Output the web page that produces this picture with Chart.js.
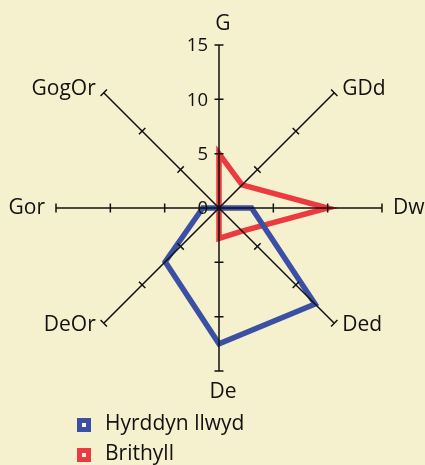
<!DOCTYPE html>
<html>
<head>
<meta charset="utf-8">
<script src="https://cdn.jsdelivr.net/npm/chart.js@4"></script>
<style>
html, body { margin: 0; padding: 0; background: #f5f0ce; }
#wrap { width: 425px; height: 465px; }
</style>
</head>
<body>
<div id="wrap"><canvas id="chart" width="425" height="465"></canvas></div>
<script>
const labels = ['G', 'GDd', 'Dw', 'Ded', 'De', 'DeOr', 'Gor', 'GogOr'];
const hyrddynLlwyd = [0, 0, 3, 12.5, 12.5, 7, 1.5, 0];
const brithyll = [5, 3, 10, 3, 2.8, 0, 0, 0];
const tickValues = [0, 5, 10, 15];

const BLUE = '#3b50a3';
const RED = '#ec3b40';
const INK = '#111';
const FONT = '"Open Sans", "DejaVu Sans", sans-serif';

// axes, tick marks and labels go on top of the lines, like the original
const crossAxes = {
    id: 'crossAxes',
    afterDatasetsDraw(chart) {
        const scale = chart.scales.r;
        const c = chart.ctx;
        const max = tickValues[tickValues.length - 1];
        c.save();
        c.strokeStyle = '#111';
        c.lineWidth = 1.5;
        c.beginPath();
        labels.forEach((lab, i) => {
            const end = scale.getPointPositionForValue(i, max);
            c.moveTo(scale.xCenter, scale.yCenter);
            c.lineTo(end.x, end.y);
            const nx = -Math.sin(end.angle), ny = Math.cos(end.angle);
            tickValues.slice(1).forEach(v => {
                const p = scale.getPointPositionForValue(i, v);
                c.moveTo(p.x + nx * 4.5, p.y + ny * 4.5);
                c.lineTo(p.x - nx * 4.5, p.y - ny * 4.5);
            });
        });
        c.stroke();

        // tick labels on the vertical axis
        c.fillStyle = INK;
        c.font = '18.5px ' + FONT;
        c.textAlign = 'right';
        c.textBaseline = 'middle';
        tickValues.forEach(v => {
            const p = scale.getPointPositionForValue(0, v);
            c.fillText(String(v), scale.xCenter - 11, p.y + 1);
        });

        // point labels
        c.font = '21px ' + FONT;
        labels.forEach((lab, i) => {
            const end = scale.getPointPositionForValue(i, max);
            const dx = Math.cos(end.angle), dy = Math.sin(end.angle);
            let x = end.x, y = end.y;
            if (Math.abs(dx) < 0.1) {
                c.textAlign = 'center';
                x += 4;
                y += dy < 0 ? -21 : 21;
            } else {
                c.textAlign = dx > 0 ? 'left' : 'right';
                x += (dx > 0 ? 1 : -1) * (Math.abs(dy) < 0.1 ? 11 : 8);
                if (Math.abs(dy) > 0.1) y += dy < 0 ? -4 : 2;
            }
            c.fillText(lab, x, y);
        });
        c.restore();
    }
};

const stackedLegend = {
    id: 'stackedLegend',
    afterDraw(chart) {
        const c = chart.ctx;
        c.save();
        c.font = '21px ' + FONT;
        c.textAlign = 'left';
        c.textBaseline = 'alphabetic';
        chart.data.datasets.forEach((ds, i) => {
            const cy = 425 + i * 30;
            c.fillStyle = ds.borderColor;
            c.fillRect(77, cy - 7, 14, 14);
            c.fillStyle = '#fbf8ea';
            c.fillRect(82, cy - 2, 4, 4);
            c.fillStyle = INK;
            c.fillText(ds.label, 105, cy + 5);
        });
        c.restore();
    }
};

const lineStyle = {
    backgroundColor: 'transparent',
    fill: false,
    borderWidth: 5.5,
    borderJoinStyle: 'miter',
    pointRadius: 0,
    pointHoverRadius: 0,
    tension: 0
};

new Chart(document.getElementById('chart'), {
    type: 'radar',
    data: {
        labels: labels,
        datasets: [
            Object.assign({ label: 'Hyrddyn llwyd', data: hyrddynLlwyd, borderColor: BLUE }, lineStyle),
            Object.assign({ label: 'Brithyll', data: brithyll, borderColor: RED }, lineStyle)
        ]
    },
    options: {
        responsive: false,
        animation: false,
        layout: { padding: { left: 56, right: 42, top: 45, bottom: 93 } },
        plugins: {
            legend: { display: false },
            tooltip: { enabled: false }
        },
        scales: {
            r: {
                min: 0,
                max: 15,
                ticks: { display: false, stepSize: 5 },
                grid: { display: false },
                angleLines: { display: false },
                pointLabels: { display: false }
            }
        }
    },
    plugins: [crossAxes, stackedLegend]
});
</script>
</body>
</html>
